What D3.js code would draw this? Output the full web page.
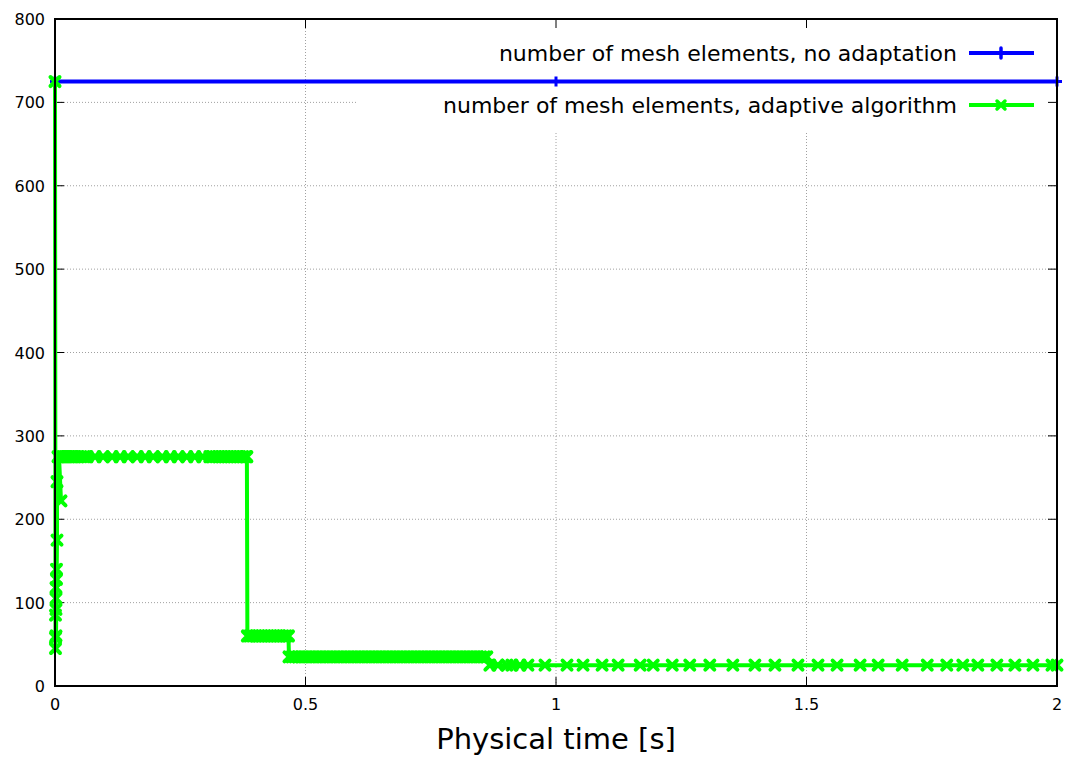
<!DOCTYPE html>
<html>
<head>
<meta charset="utf-8">
<script src="https://cdn.jsdelivr.net/npm/d3@7"></script>
<style>
  body { margin: 0; background: #fff; }
  svg { display: block; font-family: "DejaVu Sans", sans-serif; }
</style>
</head>
<body>
<div id="chart"></div>
<script>
// reference run, no adaptation
const fixedTime = [0, 1, 2];
const fixedCount = [725, 725, 725];

// adaptive algorithm
const adaptTime = [
  0, 0.001, 0.001, 0.002, 0.002, 0.003, 0.002, 0.003, 0.001, 0.002, 0.004, 0.004, 0.006, 0.012, 0.008,
  0.012, 0.016, 0.020, 0.024, 0.028, 0.032, 0.036, 0.040, 0.046, 0.052, 0.058, 0.064,
  0.080, 0.096, 0.114, 0.130, 0.146, 0.164, 0.180, 0.196, 0.214, 0.230, 0.246, 0.263, 0.279, 0.295,
  0.309, 0.315, 0.321, 0.327, 0.333, 0.339, 0.345, 0.351, 0.357, 0.363, 0.369, 0.375, 0.381, 0.383,
  0.384, 0.389, 0.395, 0.401, 0.407, 0.413, 0.419, 0.425, 0.431, 0.437, 0.443, 0.449, 0.455, 0.461, 0.466,
  0.467, 0.473, 0.479, 0.486, 0.493, 0.500, 0.507, 0.514, 0.521, 0.528, 0.535, 0.542, 0.549, 0.556,
  0.563, 0.570, 0.577, 0.584, 0.591, 0.598, 0.605, 0.612, 0.619, 0.626, 0.633, 0.640, 0.647, 0.654,
  0.661, 0.668, 0.675, 0.682, 0.689, 0.696, 0.703, 0.710, 0.717, 0.724, 0.731, 0.738, 0.745, 0.752,
  0.759, 0.766, 0.773, 0.780, 0.787, 0.794, 0.801, 0.808, 0.815, 0.822, 0.829, 0.836, 0.843, 0.850,
  0.857, 0.862,
  0.868, 0.884, 0.902, 0.912, 0.928, 0.944, 0.978, 1.022, 1.054, 1.092, 1.124, 1.168, 1.194, 1.232,
  1.267, 1.307, 1.353, 1.397, 1.437, 1.483, 1.523, 1.561, 1.607, 1.643, 1.691, 1.741, 1.780, 1.812,
  1.842, 1.880, 1.916, 1.952, 1.990, 2.000
];
const adaptCount = [
  725, 45, 58, 92, 118, 140, 105, 128, 85, 60, 175, 245, 275, 222, 275,
  275, 275, 275, 275, 275, 275, 275, 275, 275, 275, 275, 275,
  275, 275, 275, 275, 275, 275, 275, 275, 275, 275, 275, 275, 275, 275,
  275, 275, 275, 275, 275, 275, 275, 275, 275, 275, 275, 275, 275, 275,
  60, 60, 60, 60, 60, 60, 60, 60, 60, 60, 60, 60, 60, 60, 60,
  35, 35, 35, 35, 35, 35, 35, 35, 35, 35, 35, 35, 35, 35,
  35, 35, 35, 35, 35, 35, 35, 35, 35, 35, 35, 35, 35, 35,
  35, 35, 35, 35, 35, 35, 35, 35, 35, 35, 35, 35, 35, 35,
  35, 35, 35, 35, 35, 35, 35, 35, 35, 35, 35, 35, 35, 35,
  35, 35,
  25, 25, 25, 25, 25, 25, 25, 25, 25, 25, 25, 25, 25, 25,
  25, 25, 25, 25, 25, 25, 25, 25, 25, 25, 25, 25, 25, 25,
  25, 25, 25, 25, 25, 25
];

const xTicks = [0, 0.5, 1, 1.5, 2];
const yTicks = [0, 100, 200, 300, 400, 500, 600, 700, 800];
const seriesNames = [
  "number of mesh elements, no adaptation",
  "number of mesh elements, adaptive algorithm"
];

const width = 1076, height = 758;
const margin = { top: 19, right: 19, bottom: 72, left: 55 };

const x = d3.scaleLinear().domain([0, 2]).range([margin.left, width - margin.right]);
const y = d3.scaleLinear().domain([0, 800]).range([height - margin.bottom, margin.top]);

const svg = d3.select("#chart").append("svg")
  .attr("width", width)
  .attr("height", height);

// grid
const grid = svg.append("g")
  .attr("stroke", "#a0a0a0")
  .attr("stroke-width", 1)
  .attr("stroke-dasharray", "1,2");

grid.selectAll(".gy")
  .data(yTicks.slice(1, -1))
  .join("line")
  .attr("x1", x(0)).attr("x2", x(2))
  .attr("y1", d => y(d)).attr("y2", d => y(d));

grid.selectAll(".gx")
  .data(xTicks.slice(1, -1))
  .join("line")
  .attr("x1", d => x(d)).attr("x2", d => x(d))
  .attr("y1", y(0)).attr("y2", y(800));

// opaque key box hides the grid behind it
svg.append("rect")
  .attr("x", 357)
  .attr("y", y(800))
  .attr("width", x(2) - 357)
  .attr("height", 131 - y(800))
  .attr("fill", "#fff");

// ticks, inward and mirrored
const tickLen = 9;
const ticks = svg.append("g").attr("stroke", "#000").attr("stroke-width", 1);
for (const v of yTicks) {
  ticks.append("line").attr("x1", x(0)).attr("x2", x(0) + tickLen).attr("y1", y(v)).attr("y2", y(v));
  ticks.append("line").attr("x1", x(2)).attr("x2", x(2) - tickLen).attr("y1", y(v)).attr("y2", y(v));
}
for (const v of xTicks) {
  ticks.append("line").attr("x1", x(v)).attr("x2", x(v)).attr("y1", y(0)).attr("y2", y(0) - tickLen);
  ticks.append("line").attr("x1", x(v)).attr("x2", x(v)).attr("y1", y(800)).attr("y2", y(800) + tickLen);
}

// tick labels
svg.append("g")
  .attr("font-size", 16)
  .attr("text-anchor", "end")
  .selectAll("text")
  .data(yTicks)
  .join("text")
  .attr("x", x(0) - 10)
  .attr("y", d => y(d) + 6)
  .text(d => d);

svg.append("g")
  .attr("font-size", 16)
  .attr("text-anchor", "middle")
  .selectAll("text")
  .data(xTicks)
  .join("text")
  .attr("x", d => x(d))
  .attr("y", y(0) + 24)
  .text(d => d);

svg.append("text")
  .attr("x", (x(0) + x(2)) / 2)
  .attr("y", 749)
  .attr("text-anchor", "middle")
  .attr("font-size", 29)
  .text("Physical time [s]");

const line = d3.line().x(d => x(d[0])).y(d => y(d[1]));

const fixedData = d3.zip(fixedTime, fixedCount);
const adaptData = d3.zip(adaptTime, adaptCount);

const plusPath = s => `M${-s},0L${s},0M0,${-s}L0,${s}`;
const crossPath = s => `M${-s},${-s}L${s},${s}M${-s},${s}L${s},${-s}`;

// blue: no adaptation
svg.append("path")
  .datum(fixedData)
  .attr("fill", "none")
  .attr("stroke", "#0000ff")
  .attr("stroke-width", 4)
  .attr("d", line);

svg.append("g")
  .selectAll("path")
  .data(fixedData)
  .join("path")
  .attr("transform", d => `translate(${x(d[0])},${y(d[1])})`)
  .attr("d", plusPath(5))
  .attr("stroke", "#0000ff")
  .attr("stroke-width", 3);

// green: adaptive
svg.append("path")
  .datum(adaptData)
  .attr("fill", "none")
  .attr("stroke", "#00ff00")
  .attr("stroke-width", 4)
  .attr("stroke-linejoin", "round")
  .attr("d", line);

svg.append("g")
  .selectAll("path")
  .data(adaptData)
  .join("path")
  .attr("transform", d => `translate(${x(d[0])},${y(d[1])})`)
  .attr("d", crossPath(4.5))
  .attr("stroke", "#00ff00")
  .attr("stroke-width", 4)
  .attr("stroke-linecap", "round");

// key
const key = svg.append("g");
const keyRows = [
  { name: seriesNames[0], color: "#0000ff", mark: plusPath(5), y: 53 },
  { name: seriesNames[1], color: "#00ff00", mark: crossPath(4), y: 105 }
];
for (const r of keyRows) {
  key.append("text")
    .attr("x", 957)
    .attr("y", r.y + 8)
    .attr("text-anchor", "end")
    .attr("font-size", 22)
    .text(r.name);
  key.append("line")
    .attr("x1", 969).attr("x2", 1034)
    .attr("y1", r.y).attr("y2", r.y)
    .attr("stroke", r.color)
    .attr("stroke-width", 4);
  key.append("path")
    .attr("transform", `translate(1001,${r.y})`)
    .attr("d", r.mark)
    .attr("stroke", r.color)
    .attr("stroke-width", 3.5)
    .attr("stroke-linecap", "round");
}

// border
svg.append("rect")
  .attr("x", x(0))
  .attr("y", y(800))
  .attr("width", x(2) - x(0))
  .attr("height", y(0) - y(800))
  .attr("fill", "none")
  .attr("stroke", "#000")
  .attr("stroke-width", 2);
</script>
</body>
</html>
